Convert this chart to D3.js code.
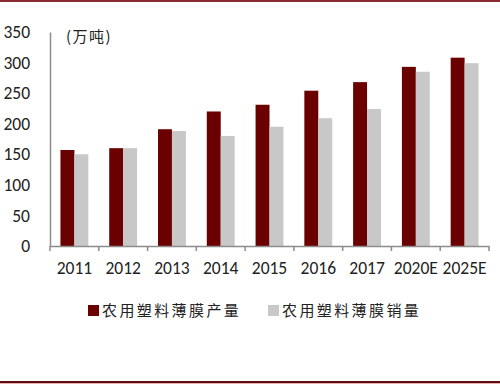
<!DOCTYPE html>
<html>
<head>
<meta charset="utf-8">
<script src="https://cdn.jsdelivr.net/npm/d3@7"></script>
<style>
  body { margin: 0; background: #fff; }
  svg text { font-family: Calibri, Carlito, "Open Sans", "Liberation Sans", sans-serif; fill: #222; }
  .cjk { font-family: "Noto Sans CJK SC", sans-serif; }
</style>
</head>
<body>
<div id="chart"></div>
<script>
const years = ["2011", "2012", "2013", "2014", "2015", "2016", "2017", "2020E", "2025E"];
const output = [157, 160, 191, 220, 231, 254, 268, 293, 308];
const sales = [150, 160, 188, 180, 195, 209, 224, 285, 299];
const seriesNames = ["农用塑料薄膜产量", "农用塑料薄膜销量"];
const colours = ["#6b0000", "#c8c8c8"];
const yTicks = [0, 50, 100, 150, 200, 250, 300, 350];

const width = 500, height = 384;
const margin = { t: 32, r: 11, b: 138, l: 50 };

const svg = d3.select("#chart").append("svg")
    .attr("width", width)
    .attr("height", height);

// frame lines top and bottom
svg.append("rect").attr("x", 0).attr("y", 0).attr("width", width).attr("height", 2).attr("fill", "#8a2a35");
svg.append("rect").attr("x", 0).attr("y", 381).attr("width", width).attr("height", 2).attr("fill", "#5a0d10");
svg.append("rect").attr("x", 0).attr("y", 383).attr("width", width).attr("height", 1).attr("fill", "#e8b0b0");

let x = d3.scaleBand()
    .domain(years)
    .range([margin.l, width - margin.r])
    .paddingInner(0)
    .paddingOuter(0);

let y = d3.scaleLinear()
    .domain([0, 350])
    .range([height - margin.b, margin.t]);

let inner = d3.scaleBand()
    .domain([0, 1])
    .range([0, x.bandwidth()])
    .paddingOuter(0.75)
    .paddingInner(0);

let data = years.map((yr, i) => ({ year: yr, values: [output[i], sales[i]] }));

let groups = svg.append("g").selectAll("g")
    .data(data)
    .join("g")
    .attr("transform", d => `translate(${x(d.year)},0)`);

groups.selectAll("rect")
    .data(d => d.values)
    .join("rect")
    .attr("x", (d, i) => inner(i))
    .attr("width", inner.bandwidth())
    .attr("y", d => y(d))
    .attr("height", d => y(0) - y(d))
    .attr("fill", (d, i) => colours[i]);

// y axis: line only, labels on left
let yAxis = svg.append("g")
    .attr("transform", `translate(${margin.l},0)`)
    .call(d3.axisLeft(y).tickValues(yTicks).tickSize(0).tickPadding(20));
yAxis.select(".domain").attr("stroke", "#8c8c8c").attr("stroke-width", 1.5);
yAxis.selectAll("text").attr("font-size", 17.5).style("fill", "#222");

// x axis with ticks between categories
let xAxis = svg.append("g")
    .attr("transform", `translate(0,${y(0)})`)
    .call(d3.axisBottom(x).tickSize(0).tickPadding(16));
xAxis.select(".domain").attr("stroke", "#8c8c8c").attr("stroke-width", 1.5);
xAxis.selectAll("text").attr("font-size", 17.5).style("fill", "#222");

let bounds = years.map(d => x(d)).concat([x(years[years.length - 1]) + x.bandwidth()]);
xAxis.selectAll(".sep")
    .data(bounds)
    .join("line")
    .attr("class", "sep")
    .attr("x1", d => d).attr("x2", d => d)
    .attr("y1", 0).attr("y2", 5)
    .attr("stroke", "#8c8c8c")
    .attr("stroke-width", 1.5);

// unit label
svg.append("text")
    .attr("class", "cjk")
    .attr("x", 66)
    .attr("y", 42)
    .attr("font-size", 15)
    .attr("letter-spacing", 1.5)
    .text("(万吨)");

// legend
let legendX = [88, 268];
let legend = svg.append("g").selectAll("g")
    .data(seriesNames)
    .join("g")
    .attr("transform", (d, i) => `translate(${legendX[i]},310)`);

legend.append("rect")
    .attr("x", 0).attr("y", -5)
    .attr("width", 11).attr("height", 11)
    .attr("fill", (d, i) => colours[i]);

legend.append("text")
    .attr("class", "cjk")
    .attr("x", 14)
    .attr("y", 6)
    .attr("font-size", 15)
    .attr("letter-spacing", 2.4)
    .text(d => d);
</script>
</body>
</html>
